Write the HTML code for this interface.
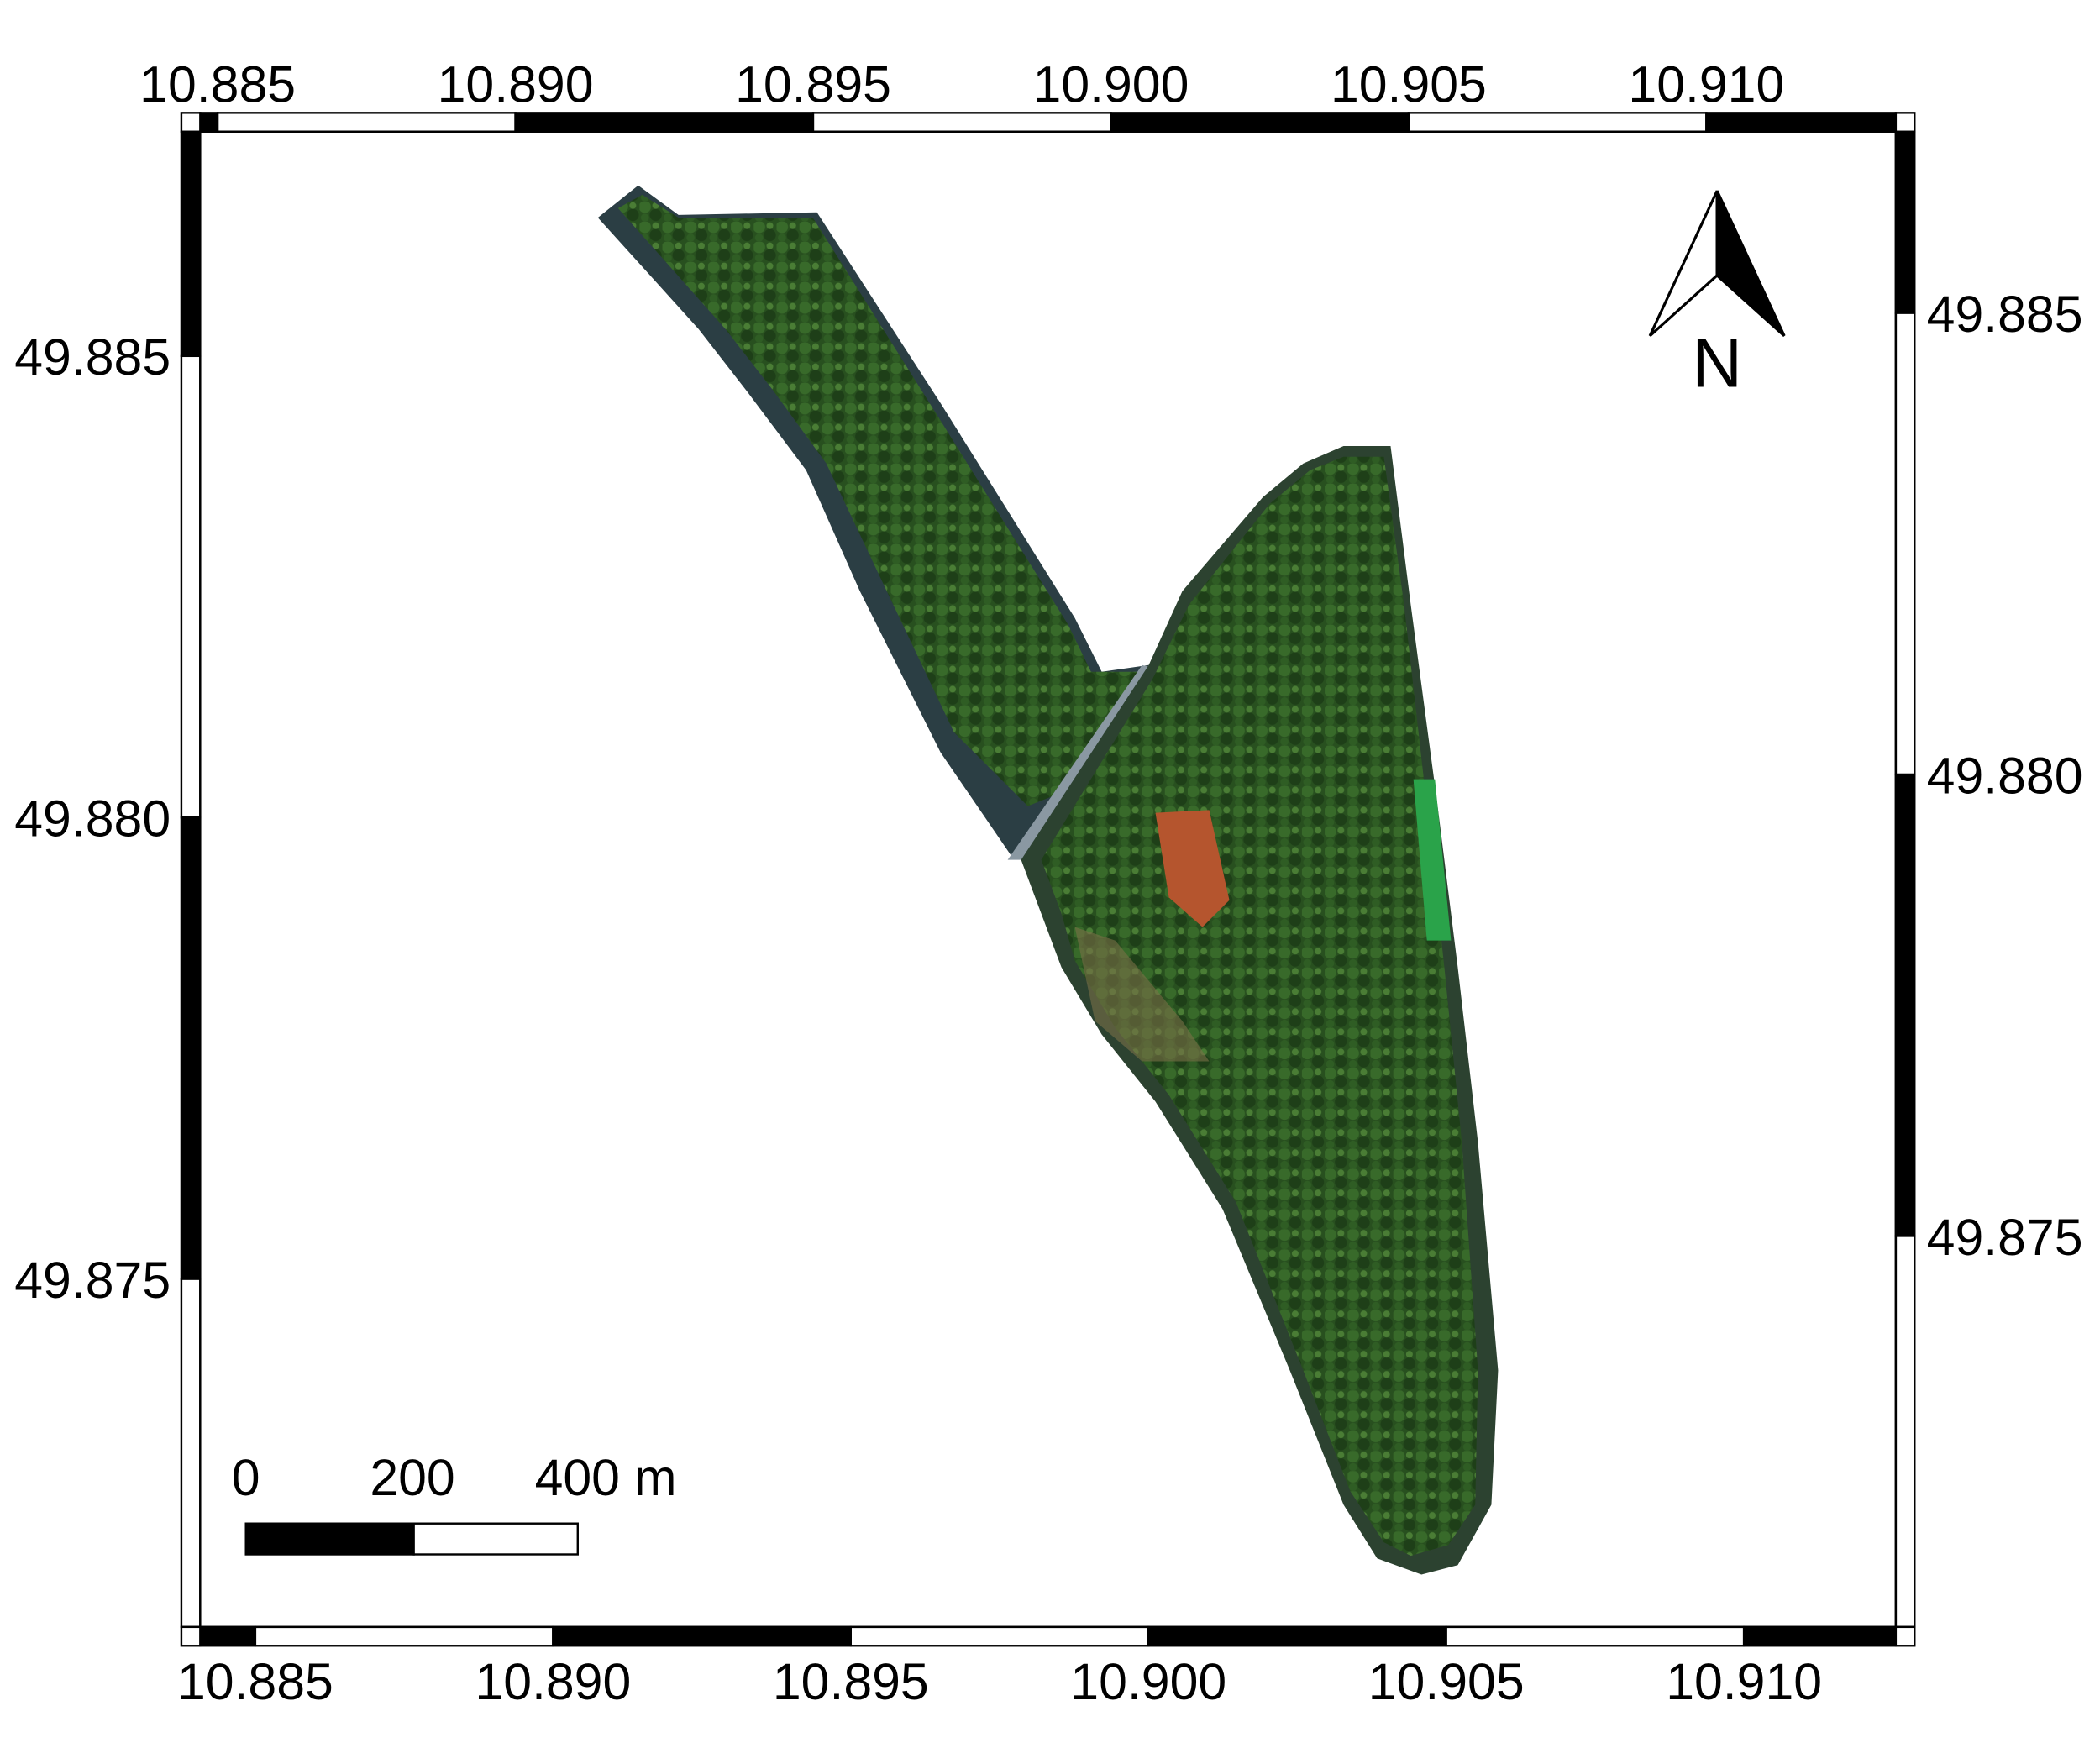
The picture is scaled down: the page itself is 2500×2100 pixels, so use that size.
<!DOCTYPE html>
<html><head><meta charset="utf-8"><style>
html,body{margin:0;padding:0;background:#fff;}
svg{display:block;font-family:"Liberation Sans",sans-serif;}
</style></head><body>
<svg id="map" width="2500" height="2100" viewBox="0 0 1563 1313" preserveAspectRatio="none" xmlns="http://www.w3.org/2000/svg">
<defs>
<pattern id="trees" width="17" height="15" patternUnits="userSpaceOnUse">
<rect width="17" height="15" fill="#28501f"/>
<circle cx="4" cy="4" r="4.5" fill="#386a2a"/>
<circle cx="12" cy="10" r="4.5" fill="#1e3f18"/>
<circle cx="12" cy="3" r="2.5" fill="#4a7d35"/>
<circle cx="4" cy="12" r="3" fill="#2f5d24"/>
</pattern>
</defs>
<g>
<polygon fill="#2b3e44" points="445,162 475,138 505,160 608,158 700,300 800,460 820,500 855,495 770,640 752,636 700,560 640,440 600,350 555,290 520,245"/>
<polygon fill="url(#trees)" points="460,155 478,145 505,162 605,162 695,305 795,465 812,500 850,500 790,590 765,600 710,545 660,440 615,345 575,290 540,245"/>
<polygon fill="#8a98a2" points="850,495 858,497 765,640 750,640"/>
<polygon fill="#2c4230" points="760,640 855,495 880,440 940,370 970,345 1000,332 1035,332 1050,450 1070,600 1085,720 1100,850 1115,1020 1110,1120 1085,1165 1058,1172 1025,1160 1000,1120 960,1020 910,900 860,820 820,770 790,720 775,680"/>
<polygon fill="url(#trees)" points="775,640 858,505 885,450 945,375 975,350 1000,340 1030,340 1045,450 1062,600 1075,720 1088,850 1100,1020 1098,1120 1078,1150 1050,1158 1030,1148 1005,1110 968,1015 920,895 870,815 830,765 800,715 790,680"/>
<polygon fill="#2aa34a" points="1052,580 1068,580 1080,700 1062,700"/>
<polygon fill="#b5552e" points="860,605 900,603 915,670 895,690 870,668"/>
<polygon fill="#7a7048" opacity="0.6" points="800,690 830,700 880,760 900,790 850,790 815,760"/>
</g>
<g id="frame" stroke="#000" stroke-width="1.5"></g>
<g id="labels" font-size="38" fill="#000"></g>
<g>
<rect x="183" y="1134" width="125" height="23" fill="#000" stroke="#000" stroke-width="1.5"/>
<rect x="308" y="1134" width="122" height="23" fill="#fff" stroke="#000" stroke-width="1.5"/>
<text x="183" y="1113" font-size="38" text-anchor="middle">0</text>
<text x="307" y="1113" font-size="38" text-anchor="middle">200</text>
<text x="398" y="1113" font-size="38">400 m</text>
</g>
<g>
<polygon points="1278,142 1228,250 1278,205" fill="#fff" stroke="#000" stroke-width="2"/>
<polygon points="1278,142 1328,250 1278,205" fill="#000" stroke="#000" stroke-width="2"/>
<text x="1278" y="288" font-size="52" text-anchor="middle">N</text>
</g>
</svg>
<script>
const topTicks=[10.885,10.890,10.895,10.900,10.905,10.910];
const bottomTicks=[10.885,10.890,10.895,10.900,10.905,10.910];
const latTicks=[49.885,49.880,49.875];
const NS='http://www.w3.org/2000/svg';
const frame=document.getElementById('frame'),labels=document.getElementById('labels');
const topX=v=>162+(v-10.885)/0.005*221.6;
const botX=v=>190+(v-10.885)/0.005*221.6;
const leftY=v=>265+(49.885-v)/0.005*343.5;
const rightY=v=>233+(49.885-v)/0.005*343.5;
function rect(x,y,w,h,f){const r=document.createElementNS(NS,'rect');r.setAttribute('x',x);r.setAttribute('y',y);r.setAttribute('width',w);r.setAttribute('height',h);r.setAttribute('fill',f);


frame.appendChild(r);}
function txt(s,x,y,a,n){const t=document.createElementNS(NS,'text');t.setAttribute('x',x);t.setAttribute('y',y);t.setAttribute('text-anchor',a);t.textContent=s;


labels.appendChild(t);}
function hband(y,fn,ticks,startBlack){
 let pts=[149];ticks.forEach(t=>pts.push(fn(t)));pts.push(1411);
 let b=startBlack;for(let i=0;i<pts.length-1;i++){rect(pts[i],y,pts[i+1]-pts[i],14,b?'#000':'#fff');b=!b;}
}
function vband(x,fn,ticks,startBlack){
 let pts=[98];ticks.forEach(t=>pts.push(fn(t)));pts.push(1211);
 let b=startBlack;for(let i=0;i<pts.length-1;i++){rect(x,pts[i],14,pts[i+1]-pts[i],b?'#000':'#fff');b=!b;}
}
hband(84,topX,topTicks,true);
hband(1211,botX,bottomTicks,true);
vband(135,leftY,latTicks,true);
vband(1411,rightY,latTicks,true);
[[135,84],[1411,84],[135,1211],[1411,1211]].forEach(c=>rect(c[0],c[1],14,14,'#fff'));
const inner=document.createElementNS(NS,'rect');inner.setAttribute('x',149);inner.setAttribute('y',98);inner.setAttribute('width',1262);inner.setAttribute('height',1113);inner.setAttribute('fill','none');


frame.appendChild(inner);
topTicks.forEach(t=>txt(t.toFixed(3),topX(t),76,'middle','top-lon-label'));
bottomTicks.forEach(t=>txt(t.toFixed(3),botX(t),1265,'middle','bottom-lon-label'));
latTicks.forEach(t=>txt(t.toFixed(3),127,leftY(t)+14,'end','left-lat-label'));
latTicks.forEach(t=>txt(t.toFixed(3),1434,rightY(t)+14,'start','right-lat-label'));
</script>
</body></html>
